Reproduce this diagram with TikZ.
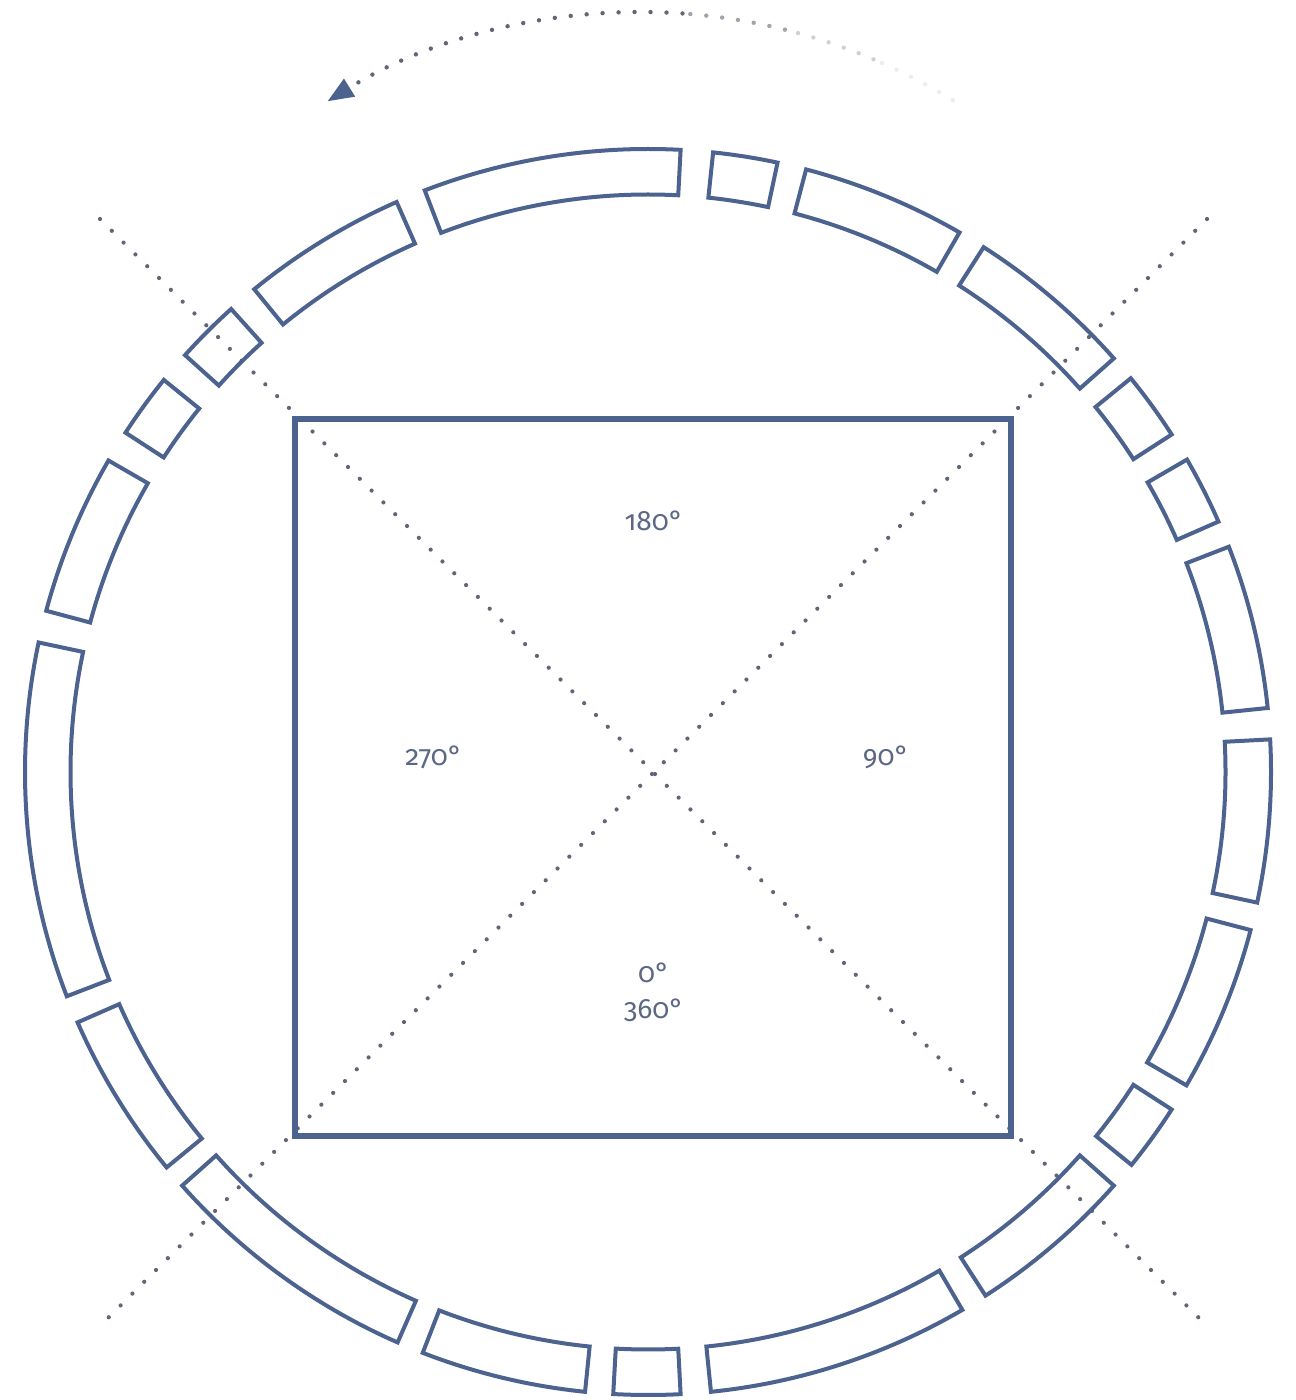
\documentclass[tikz,border=0pt]{standalone}
\usepackage{fontspec}
\setmainfont{Fira Sans}[Numbers=OldStyle]
\usetikzlibrary{arrows.meta}

\definecolor{ringblue}{RGB}{76,99,143}
\definecolor{dotgrey}{RGB}{96,102,120}
\definecolor{labelgrey}{RGB}{92,104,132}

\tikzset{
  ringpart/.style={draw=ringblue, line width=2pt, line join=miter},
  wall/.style={draw=ringblue, line width=3pt},
  diagline/.style={draw=dotgrey, line width=2.1pt, line cap=round, dash pattern=on 0pt off 8.35pt},
  turnline/.style={draw=dotgrey, line width=2.2pt, line cap=round, dash pattern=on 0pt off 8pt},
  degree/.style={inner sep=0.75pt, text=labelgrey, font=\fontsize{14}{18}\selectfont},
}

\begin{document}
\begin{tikzpicture}[x=0.5pt,y=0.5pt,yscale=-1,xscale=1]
\useasboundingbox (0,0) rectangle (1295,1400);

%Straight Lines: dotted diagonals
\coordinate (dnw) at (100,219);
\coordinate (dse) at (1207,1326);
\coordinate (dne) at (1207,219);
\coordinate (dsw) at (100,1326);
\draw [diagline] (dnw) -- (dse) ;
\draw [diagline] (dne) -- (dsw) ;

%Shape: Square
\draw [wall] (295,419) rectangle (1011,1136) ;

%Shape: Ring of segments
\begin{scope}[shift={(648,772)}]
  \foreach \a/\b in {249/273, -84/-78, -75.3/-60, -57.4/-41.6, -39.2/-32.8, -30.1/-23.7,
                     -21.2/-5.9, -3/12.1, 14.7/30.2, 32.8/39.1, 41.6/57.2, 59.7/84.2,
                     87/93.2, 95.8/111.2, 113.7/138.4, 140.6/156.3, 158.9/192, 195/210,
                     213/219, 222/228, 230.8/246.2}
    \draw [ringpart] (\a:623) arc[start angle=\a, end angle=\b, radius=623]
          -- (\b:577.5) arc[start angle=\b, end angle=\a, radius=577.5] -- cycle ;
\end{scope}

%Curve Lines: turning arrow
\begin{scope}[shift={(641,607)}]
  \draw [turnline, opacity=0.12] (-58.4:595) arc[start angle=-58.4, end angle=-67, radius=595] ;
  \draw [turnline, opacity=0.3] (-67:595) arc[start angle=-67, end angle=-76, radius=595] ;
  \draw [turnline, opacity=0.6] (-76:595) arc[start angle=-76, end angle=-86, radius=595] ;
  \draw [turnline, -{Triangle[length=13pt, width=10pt, color=ringblue]}]
        (-86:595) arc[start angle=-86, end angle=-121.8, radius=595] ;
\end{scope}

% Text Node
\node [degree] (deg180) at (654,521) {180°};
% Text Node
\node [degree] (deg270) at (434,757) {270°};
% Text Node
\node [degree] (deg90) at (886,757) {90°};
% Text Node
\node [degree, align=center] (deg0) at (654,992) {0°\\360°};
\end{tikzpicture}
\end{document}
